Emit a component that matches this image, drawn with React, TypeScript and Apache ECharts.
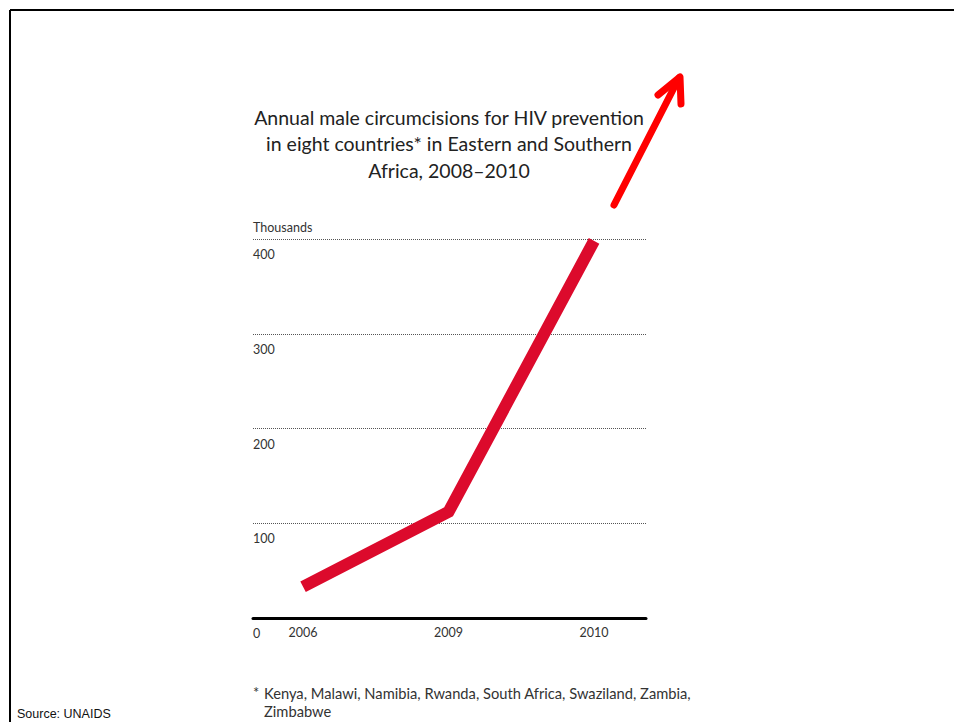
import React, { useEffect, useRef } from "react";
import * as echarts from "echarts";

const categories = ["2006", "2009", "2010"];
const circumcisions = [33, 112, 398];
const yTicks = [0, 100, 200, 300, 400];
const titleLines = [
  "Annual male circumcisions for HIV prevention",
  "in eight countries* in Eastern and Southern",
  "Africa, 2008–2010",
];
const footnoteMark = "*";
const footnoteLines = [
  "Kenya, Malawi, Namibia, Rwanda, South Africa, Swaziland, Zambia,",
  "Zimbabwe",
];
const sourceText = "Source: UNAIDS";
const unitName = "Thousands";

export default function App() {
  const ref = useRef<HTMLDivElement>(null);
  useEffect(() => {
    if (!ref.current) return;
    const chart = echarts.init(ref.current, null, { renderer: "svg" });
    const font = "Lato, 'Open Sans', sans-serif";
    const seriesData = circumcisions.map((v, i) => [i, v]);
    chart.setOption({
      animation: false,
      backgroundColor: "#ffffff",
      title: {
        text: titleLines.join("\n"),
        left: 449,
        top: 104,
        padding: 0,
        textAlign: "center",
        textStyle: {
          fontFamily: font,
          fontSize: 19.5,
          fontWeight: "normal",
          color: "#222222",
          lineHeight: 26.5,
        },
      },
      grid: { left: 253, right: 308, top: 239, bottom: 104 },
      xAxis: {
        type: "value",
        min: -0.344,
        max: 2.357,
        splitLine: { show: false },
        axisLine: { show: true, onZero: false, lineStyle: { color: "#000000", width: 3 } },
        axisTick: { show: false },
        axisLabel: {
          customValues: categories.map((_, i) => i),
          formatter: (v: number) => categories[Math.round(v)] ?? "",
          fontFamily: font,
          fontSize: 12.5,
          color: "#333333",
          margin: 8,
        },
      },
      yAxis: {
        type: "value",
        min: yTicks[0],
        max: yTicks[yTicks.length - 1],
        interval: 100,
        name: unitName,
        nameLocation: "end",
        nameGap: 5,
        nameTextStyle: {
          fontFamily: font,
          fontSize: 12.5,
          color: "#333333",
          align: "left",
          verticalAlign: "bottom",
        },
        axisLine: { show: false, onZero: false },
        axisTick: { show: false },
        splitLine: { show: true, lineStyle: { color: "#555555", width: 1, type: [1, 1] } },
        axisLabel: {
          inside: true,
          margin: 0,
          verticalAlign: "top",
          padding: [9, 0, 0, 0],
          fontFamily: font,
          fontSize: 12.5,
          color: "#333333",
        },
      },
      series: [
        {
          type: "line",
          data: seriesData,
          symbol: "none",
          lineStyle: { color: "#dc0a2c", width: 12, cap: "butt", join: "miter" },
          z: 3,
        },
      ],
      graphic: [
        { type: "line", shape: { x1: 10, y1: 10, x2: 960, y2: 10 }, style: { stroke: "#000", lineWidth: 2 } },
        { type: "line", shape: { x1: 10, y1: 10, x2: 10, y2: 730 }, style: { stroke: "#000", lineWidth: 2 } },
        {
          type: "line",
          shape: { x1: 614, y1: 205, x2: 679, y2: 78 },
          style: { stroke: "#ff0000", lineWidth: 7, lineCap: "round" },
          z: 10,
        },
        {
          type: "polyline",
          shape: { points: [[658, 95], [680, 77], [681, 104]] },
          style: { stroke: "#ff0000", fill: null, lineWidth: 7, lineCap: "round", lineJoin: "round" },
          z: 10,
        },
        {
          type: "text",
          left: 253,
          top: 684,
          style: {
            text: footnoteMark,
            font: `14.7px ${font}`,
            fill: "#333333",
          },
        },
        {
          type: "text",
          left: 264,
          top: 684,
          style: {
            text: footnoteLines.join("\n"),
            font: `14.7px ${font}`,
            fill: "#333333",
            lineHeight: 18,
          },
        },
        {
          type: "text",
          left: 17,
          top: 707,
          style: {
            text: sourceText,
            font: "12.5px 'Liberation Sans', Arial, sans-serif",
            fill: "#111111",
          },
        },
      ],
    });
    return () => chart.dispose();
  }, []);
  return (
    <div
      ref={ref}
      style={{ position: "fixed", left: 0, top: 0, width: 954, height: 722 }}
    />
  );
}
